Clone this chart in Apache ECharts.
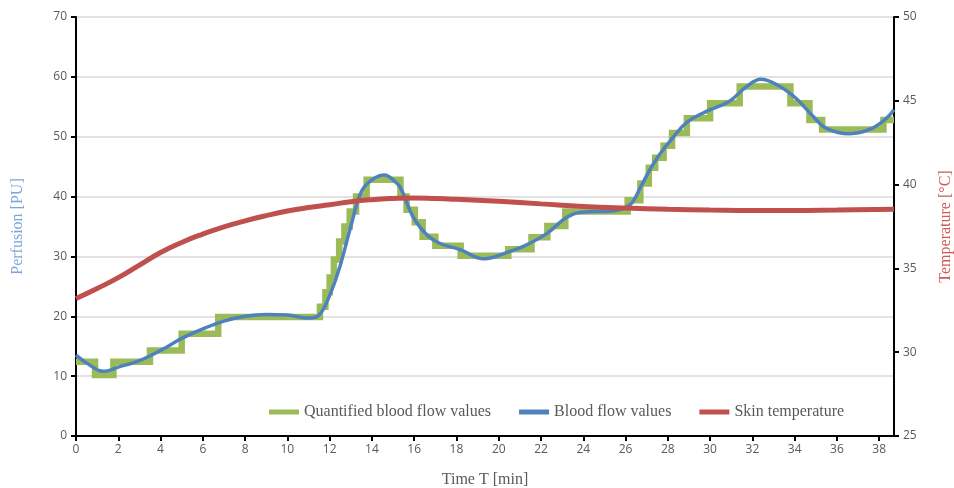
<!DOCTYPE html>
<html>
<head>
<meta charset="utf-8">
<script src="https://cdn.jsdelivr.net/npm/echarts@6/dist/echarts.min.js"></script>
<style>html,body{margin:0;padding:0;background:#fff;}#c{width:954px;height:488px;}</style>
</head>
<body>
<div id="c"></div>
<script>
// Quantified (step) blood flow: [start time, level]
const quantT = [0, 0.9, 1.77, 3.5, 5.0, 6.73, 11.54, 11.8, 12.0, 12.2, 12.45, 12.7, 12.95, 13.25, 13.75, 15.35, 15.64, 16.03, 16.4, 17.0, 18.2, 20.45, 21.55, 22.3, 23.15, 26.1, 26.7, 27.1, 27.4, 27.8, 28.2, 28.9, 30.0, 31.4, 33.8, 34.7, 35.3, 38.2, 38.7];
const quantV = [12.4, 10.2, 12.4, 14.3, 17.1, 19.9, 21.6, 24.0, 26.5, 29.5, 32.5, 35.0, 37.5, 40.0, 42.8, 40.0, 37.8, 35.7, 33.3, 31.8, 30.1, 31.2, 33.2, 35.1, 37.5, 39.4, 42.2, 44.8, 46.5, 48.5, 50.6, 53.1, 55.6, 58.4, 55.6, 52.8, 51.2, 52.8, 52.8];
// Blood flow values
const flowT = [0, 0.5, 1.3, 2, 3, 4, 5, 6, 7, 8, 9, 10, 11, 11.5, 12, 12.5, 13, 13.5, 14, 14.6, 15.0, 15.35, 15.7, 16.05, 16.6, 17.2, 18.2, 19.3, 20.5, 21.3, 22.3, 23.2, 23.9, 25.4, 26.2, 26.7, 27.15, 27.6, 28.25, 28.9, 29.8, 30.9, 31.7, 32.4, 33.3, 34.1, 34.9, 35.5, 36.6, 37.6, 38.35, 38.7];
const flowV = [13.5, 12.2, 10.8, 11.5, 12.6, 14.3, 16.3, 17.9, 19.2, 20.0, 20.3, 20.2, 19.7, 20.2, 23.5, 28.5, 35.0, 40.8, 42.8, 43.6, 42.8, 41.5, 38.5, 36.0, 33.6, 32.2, 31.1, 29.6, 30.8, 31.9, 33.9, 36.5, 37.4, 37.6, 38.6, 41.5, 44.5, 47.0, 49.9, 52.4, 54.2, 55.9, 58.3, 59.6, 58.4, 56.3, 53.3, 51.4, 50.5, 51.3, 53.1, 54.5];
// Skin temperature
const tempT = [0, 1, 2, 3, 4, 5, 6, 7, 8, 9, 10, 11, 12, 13, 14, 15, 16, 17, 18, 20, 22, 24, 26, 28, 30, 32, 34, 36, 38.7];
const tempV = [33.2, 33.8, 34.45, 35.2, 35.95, 36.55, 37.05, 37.48, 37.84, 38.15, 38.42, 38.63, 38.8, 38.98, 39.1, 39.17, 39.2, 39.17, 39.12, 39.0, 38.85, 38.7, 38.6, 38.53, 38.48, 38.45, 38.45, 38.48, 38.53];

const seriesNames = ['Quantified blood flow values', 'Blood flow values', 'Skin temperature'];
const xTitle = 'Time T [min]';
const yLeftTitle = 'Perfusion [PU]';
const yRightTitle = 'Temperature [°C]';

const zip = (a, b) => a.map((v, i) => [v, b[i]]);
const tickFont = {color: '#595959', fontFamily: 'Open Sans', fontSize: 12};

const chart = echarts.init(document.getElementById('c'));
chart.setOption({
  animation: false,
  backgroundColor: '#fff',
  grid: {left: 76, right: 60, top: 17, bottom: 52, containLabel: false, outerBoundsMode: 'none'},
  legend: {
    left: 264, top: 399,
    itemWidth: 30, itemHeight: 5, itemGap: 28,
    icon: 'rect',
    textStyle: {color: '#595959', fontFamily: 'Liberation Serif', fontSize: 16},
    data: seriesNames
  },
  xAxis: {
    type: 'value', min: 0, max: 38.7, interval: 2,
    name: xTitle, nameLocation: 'middle', nameGap: 36,
    nameTextStyle: {color: '#595959', fontFamily: 'Liberation Serif', fontSize: 16},
    axisLine: {lineStyle: {color: '#000', width: 2}},
    axisTick: {show: true, length: 5, lineStyle: {color: '#000', width: 2}},
    axisLabel: Object.assign({margin: 8, showMaxLabel: false}, tickFont),
    splitLine: {show: false}
  },
  yAxis: [{
    type: 'value', min: 0, max: 70, interval: 10, position: 'left',
    name: yLeftTitle, nameLocation: 'middle', nameRotate: 90, nameGap: 50,
    nameTextStyle: {color: '#7ea6d9', fontFamily: 'Liberation Serif', fontSize: 16},
    axisLine: {show: true, lineStyle: {color: '#000', width: 2}},
    axisTick: {show: true, length: 5, lineStyle: {color: '#000', width: 2}},
    axisLabel: Object.assign({margin: 9}, tickFont),
    splitLine: {show: true, lineStyle: {color: '#d9d9d9', width: 1.5}}
  }, {
    type: 'value', min: 25, max: 50, interval: 5, position: 'right',
    name: yRightTitle, nameLocation: 'middle', nameRotate: 90, nameGap: 44,
    nameTextStyle: {color: '#d05a57', fontFamily: 'Liberation Serif', fontSize: 16},
    axisLine: {show: true, lineStyle: {color: '#000', width: 2}},
    axisTick: {show: true, length: 5, lineStyle: {color: '#000', width: 2}},
    axisLabel: Object.assign({margin: 9}, tickFont),
    splitLine: {show: false}
  }],
  series: [{
    name: seriesNames[0], type: 'line', step: 'end', yAxisIndex: 0,
    data: zip(quantT, quantV), showSymbol: false,
    itemStyle: {color: '#9bbb59'},
    lineStyle: {color: '#9bbb59', width: 6.5, join: 'miter'}
  }, {
    name: seriesNames[1], type: 'line', smooth: 0.4, yAxisIndex: 0,
    data: zip(flowT, flowV), showSymbol: false,
    itemStyle: {color: '#4f81bd'},
    lineStyle: {color: '#4f81bd', width: 3.5}
  }, {
    name: seriesNames[2], type: 'line', smooth: 0.5, yAxisIndex: 1,
    data: zip(tempT, tempV), showSymbol: false,
    itemStyle: {color: '#c0504d'},
    lineStyle: {color: '#c0504d', width: 5}
  }]
});
</script>
</body>
</html>
